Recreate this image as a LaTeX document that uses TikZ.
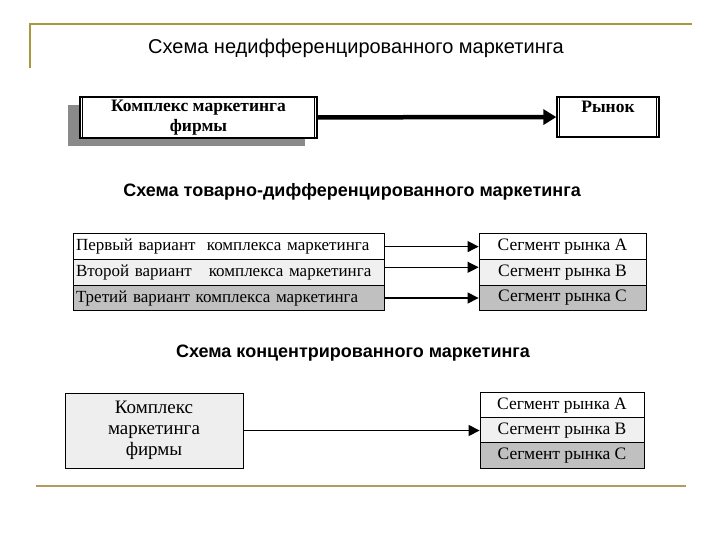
\documentclass[tikz,border=0pt]{standalone}
\usepackage{fontspec}
\setmainfont{Liberation Serif}
\setsansfont{Liberation Sans}
\usetikzlibrary{arrows,arrows.meta,shadows}

\definecolor{frameolive}{HTML}{A8983E}
\definecolor{framebrown}{HTML}{B49A5E}
\definecolor{rowlight}{HTML}{F0F0F0}
\definecolor{rowdark}{HTML}{C0C0C0}
\definecolor{boxgray}{HTML}{EEEEEE}
\definecolor{shadowgray}{HTML}{8A8A8A}

\begin{document}
\begin{tikzpicture}[x=1pt,y=-1pt,
title/.style={font=\sffamily\fontsize{20}{24}\selectfont},
subtitle/.style={font=\sffamily\bfseries\fontsize{18}{22}\selectfont},
mainbox/.style={draw,line width=1.3pt,fill=white,inner sep=0pt,align=center,font=\bfseries\fontsize{17.5}{20}\selectfont},
row/.style={draw,line width=0.8pt,inner sep=0pt,minimum height=25.7pt,font=\fontsize{17.5}{20}\selectfont},
variant/.style={row,minimum width=311pt,text width=305pt,align=left,font=\fontsize{17}{20}\selectfont},
segment/.style={row,minimum width=167pt,align=center},
arrow/.style={-{Triangle[length=11pt,width=11pt]},line width=1.1pt},
bigarrow/.style={-{Triangle[length=13pt,width=15pt]},line width=4.5pt}]

\useasboundingbox (0,0) rectangle (720,540);

\draw[frameolive,line width=2pt] (30,68) -- (30,24) -- (692,24);
\draw[framebrown,line width=2.5pt] (36,486) -- (686,486);

\node[title](t1) at (356,48) {Схема недифференцированного маркетинга};

\node[mainbox,minimum width=237pt,minimum height=41pt,
  drop shadow={shadow xshift=-12pt,shadow yshift=-8pt,fill=shadowgray,opacity=1}](komplex) at (198.5,117.5) {Комплекс маркетинга\\фирмы};

\node[mainbox,minimum width=102pt,minimum height=40pt](rynok) at (608,117) {Рынок\\\phantom{ы}};

\foreach \b in {komplex,rynok}{
\draw[line width=0.7pt] ([xshift=3pt]\b.north west) -- ([xshift=3pt]\b.south west);
\draw[line width=0.7pt] ([xshift=-3pt]\b.north east) -- ([xshift=-3pt]\b.south east);
}

\draw[bigarrow] (komplex) -- (rynok);

\node[subtitle](t2) at (352,192) {Схема товарно-дифференцированного маркетинга};

\node[variant,fill=white](v1) at (228.5,246.6) {Первый вариант\ \ комплекса маркетинга};

\node[variant,fill=rowlight](v2) at (228.5,272.3) {Второй вариант\ \ \ комплекса маркетинга};

\node[variant,fill=rowdark](v3) at (228.5,298) {Третий вариант комплекса маркетинга};

\node[segment,fill=white](s1) at (562.5,246.6) {Сегмент рынка А};

\node[segment,fill=rowlight](s2) at (562.5,272.3) {Сегмент рынка В};

\node[segment,fill=rowdark](s3) at (562.5,298) {Сегмент рынка С};

\draw[arrow] (v1) -- (s1);

\draw[arrow] ([yshift=5pt]v2.east) -- ([yshift=5pt]s2.west);

\draw[arrow] (v3) -- (s3);

\node[subtitle](t3) at (353,353) {Схема концентрированного маркетинга};

\node[draw,line width=0.8pt,fill=boxgray,minimum width=178pt,minimum height=75pt,align=center,font=\fontsize{19}{21}\selectfont](komplex2) at (154,430.5) {Комплекс\\маркетинга\\фирмы};

\node[segment,minimum width=164pt,fill=white](c1) at (562,405.5) {Сегмент рынка А};

\node[segment,minimum width=164pt,fill=rowlight](c2) at (562,430.5) {Сегмент рынка В};

\node[segment,minimum width=164pt,fill=rowdark](c3) at (562,455.5) {Сегмент рынка С};

\draw[arrow] (komplex2) -- (c2);
\end{tikzpicture}
\end{document}
